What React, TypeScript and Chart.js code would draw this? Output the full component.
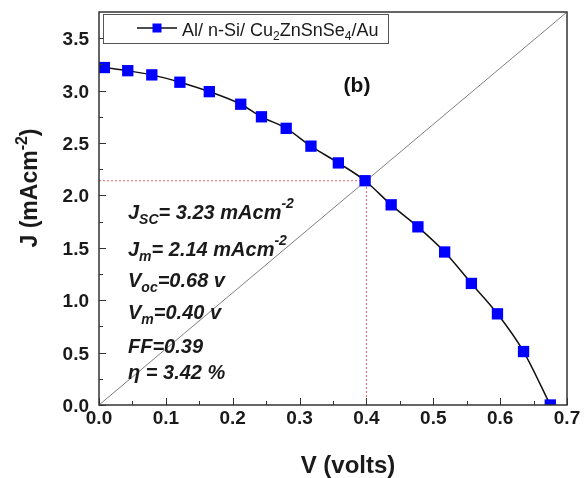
import React, { useEffect, useRef } from "react";
import { Chart, registerables } from "chart.js";

Chart.register(...registerables);

// ---- data ----
const voltage = [0.008, 0.043, 0.079, 0.121, 0.165, 0.212, 0.243, 0.28, 0.317, 0.358, 0.398, 0.437, 0.477, 0.517, 0.557, 0.596, 0.635, 0.675];
const current = [3.22, 3.19, 3.15, 3.08, 2.99, 2.87, 2.75, 2.64, 2.47, 2.31, 2.14, 1.91, 1.7, 1.46, 1.16, 0.87, 0.51, 0.0];
const diagonalV = [0, 0.7];
const diagonalJ = [0, 3.75];
const maxPowerV = 0.4;
const maxPowerJ = 2.14;
const xTicks = [0, 0.1, 0.2, 0.3, 0.4, 0.5, 0.6, 0.7];
const yTicks = [0, 0.5, 1.0, 1.5, 2.0, 2.5, 3.0, 3.5];
const xMinorTicks = [0.05, 0.15, 0.25, 0.35, 0.45, 0.55, 0.65];
const yMinorTicks = [0.25, 0.75, 1.25, 1.75, 2.25, 2.75, 3.25];
const xTickLabels = ["0.0", "0.1", "0.2", "0.3", "0.4", "0.5", "0.6", "0.7"];
const yTickLabels = ["0.0", "0.5", "1.0", "1.5", "2.0", "2.5", "3.0", "3.5"];

type Seg = [string, number, number]; // text, font size, vertical offset

const FONT = '"Liberation Sans", Arial, Helvetica, sans-serif';

const annotationLines: Seg[][] = [
  [["J", 20, 0], ["SC", 14, 5], ["= 3.23 mAcm", 20, 0], ["-2", 14, -11]],
  [["J", 20, 0], ["m", 14, 5], ["= 2.14 mAcm", 20, 0], ["-2", 14, -11]],
  [["V", 20, 0], ["oc", 14, 5], ["=0.68 v", 20, 0]],
  [["V", 20, 0], ["m", 14, 5], ["=0.40 v", 20, 0]],
  [["FF=0.39", 20, 0]],
  [["η = 3.42 %", 20, 0]],
];
const annotationBaselines = [219, 256, 287, 319, 353, 379];

const legendSegs: Seg[] = [
  ["Al/ n-Si/ Cu", 18, 0],
  ["2", 12, 4],
  ["ZnSnSe", 18, 0],
  ["4", 12, 4],
  ["/Au", 18, 0],
];
const yTitleSegs: Seg[] = [["J (mAcm", 23, 0], ["-2", 16, -10], [")", 23, 0]];
const xTitle = "V (volts)";
const panelLabel = "(b)";

function richWidth(ctx: CanvasRenderingContext2D, segs: Seg[], style: string) {
  let w = 0;
  for (const [t, s] of segs) {
    ctx.font = `${style} ${s}px ${FONT}`;
    w += ctx.measureText(t).width;
  }
  return w;
}

function drawRich(ctx: CanvasRenderingContext2D, x: number, y: number, segs: Seg[], style: string) {
  let cx = x;
  ctx.textBaseline = "alphabetic";
  ctx.textAlign = "left";
  for (const [t, s, dy] of segs) {
    ctx.font = `${style} ${s}px ${FONT}`;
    ctx.fillText(t, cx, y + dy);
    cx += ctx.measureText(t).width;
  }
}

export default function App() {
  const ref = useRef<HTMLCanvasElement>(null);

  useEffect(() => {
    const decor = {
      id: "decor",
      afterDraw(chart: any) {
        const { ctx, chartArea } = chart;
        const { left, right, top, bottom } = chartArea;
        const xs = chart.scales.x;
        const ys = chart.scales.y;
        ctx.save();
        // inner ticks
        ctx.strokeStyle = "#333";
        ctx.lineWidth = 1;
        const seg = (x1: number, y1: number, x2: number, y2: number) => {
          ctx.beginPath();
          ctx.moveTo(x1, y1);
          ctx.lineTo(x2, y2);
          ctx.stroke();
        };
        xTicks.forEach((v) => { const p = Math.round(xs.getPixelForValue(v)) + 0.5; seg(p, bottom, p, bottom - 7); });
        xMinorTicks.forEach((v) => { const p = Math.round(xs.getPixelForValue(v)) + 0.5; seg(p, bottom, p, bottom - 4); });
        yTicks.forEach((v) => { const p = Math.round(ys.getPixelForValue(v)) + 0.5; seg(left, p, left + 7, p); });
        yMinorTicks.forEach((v) => { const p = Math.round(ys.getPixelForValue(v)) + 0.5; seg(left, p, left + 4, p); });
        // frame
        ctx.lineWidth = 1.5;
        ctx.strokeStyle = "#333";
        ctx.strokeRect(left, top, right - left, bottom - top);

        // tick labels
        ctx.fillStyle = "#1a1a1a";
        ctx.font = `bold 19px ${FONT}`;
        ctx.textAlign = "center";
        ctx.textBaseline = "alphabetic";
        xTicks.forEach((v, i) => ctx.fillText(xTickLabels[i], xs.getPixelForValue(v), bottom + 19));
        ctx.textAlign = "right";
        yTicks.forEach((v, i) => ctx.fillText(yTickLabels[i], left - 10, ys.getPixelForValue(v) + 7));

        // legend
        ctx.lineWidth = 1;
        ctx.strokeStyle = "#555";
        ctx.fillStyle = "#fff";
        ctx.fillRect(103.5, 14.5, 285, 29);
        ctx.strokeRect(103.5, 14.5, 285, 29);
        ctx.strokeStyle = "#111";
        ctx.lineWidth = 1.5;
        seg(137, 28, 177, 28);
        ctx.fillStyle = "#0000ff";
        ctx.fillRect(152.5, 23.5, 9, 9);
        ctx.fillStyle = "#1a1a1a";
        drawRich(ctx, 182, 36, legendSegs, "normal");

        // panel label
        ctx.font = `bold 21px ${FONT}`;
        ctx.textAlign = "center";
        ctx.textBaseline = "alphabetic";
        ctx.fillStyle = "#111";
        ctx.fillText(panelLabel, 357, 92);

        // annotations
        ctx.fillStyle = "#1a1a1a";
        annotationLines.forEach((segs, i) => drawRich(ctx, 128, annotationBaselines[i], segs, "italic bold"));

        // axis titles
        ctx.fillStyle = "#1a1a1a";
        ctx.font = `bold 24px ${FONT}`;
        ctx.textAlign = "center";
        ctx.fillText(xTitle, 348, 473);

        const w = richWidth(ctx, yTitleSegs, "bold");
        ctx.translate(37, 188);
        ctx.rotate(-Math.PI / 2);
        drawRich(ctx, -w / 2, 0, yTitleSegs, "bold");
        ctx.restore();
      },
    };

    const chart = new Chart(ref.current!, {
      type: "scatter",
      data: {
        datasets: [
          {
            data: voltage.map((v, i) => ({ x: v, y: current[i] })),
            showLine: true,
            borderColor: "#111",
            borderWidth: 1.5,
            pointStyle: "rect",
            pointRadius: 8,
            pointHoverRadius: 8,
            pointBackgroundColor: "#0000ff",
            pointBorderColor: "#0000ff",
            pointBorderWidth: 0,
            cubicInterpolationMode: "monotone",
            order: 0,
          },
          {
            data: diagonalV.map((v, i) => ({ x: v, y: diagonalJ[i] })),
            showLine: true,
            borderColor: "#7f7f7f",
            borderWidth: 1,
            pointRadius: 0,
            order: 3,
          },
          {
            data: [{ x: 0, y: maxPowerJ }, { x: maxPowerV, y: maxPowerJ }],
            showLine: true,
            borderColor: "#e86a6a",
            borderWidth: 1,
            borderDash: [2, 2],
            pointRadius: 0,
            order: 2,
          },
          {
            data: [{ x: maxPowerV, y: 0 }, { x: maxPowerV, y: maxPowerJ }],
            showLine: true,
            borderColor: "#e86a6a",
            borderWidth: 1,
            borderDash: [2, 2],
            pointRadius: 0,
            order: 2,
          },
        ],
      } as any,
      options: {
        animation: false,
        responsive: false,
        events: [],
        layout: { padding: { top: 12, right: 19, left: 0, bottom: 0 } },
        plugins: { legend: { display: false }, tooltip: { enabled: false } },
        scales: {
          x: {
            type: "linear",
            min: 0,
            max: 0.7,
            afterFit: (s: any) => { s.height = 73; },
            ticks: { display: false },
            grid: { display: false, drawTicks: false },
            border: { display: false },
          },
          y: {
            type: "linear",
            min: 0,
            max: 3.75,
            afterFit: (s: any) => { s.width = 99; },
            ticks: { display: false },
            grid: { display: false, drawTicks: false },
            border: { display: false },
          },
        },
      } as any,
      plugins: [decor],
    });
    return () => chart.destroy();
  }, []);

  return (
    <div style={{ position: "fixed", left: 0, top: 0, width: 586, height: 478, background: "#fff" }}>
      <canvas ref={ref} width={586} height={478} style={{ width: 586, height: 478, display: "block" }} />
    </div>
  );
}
